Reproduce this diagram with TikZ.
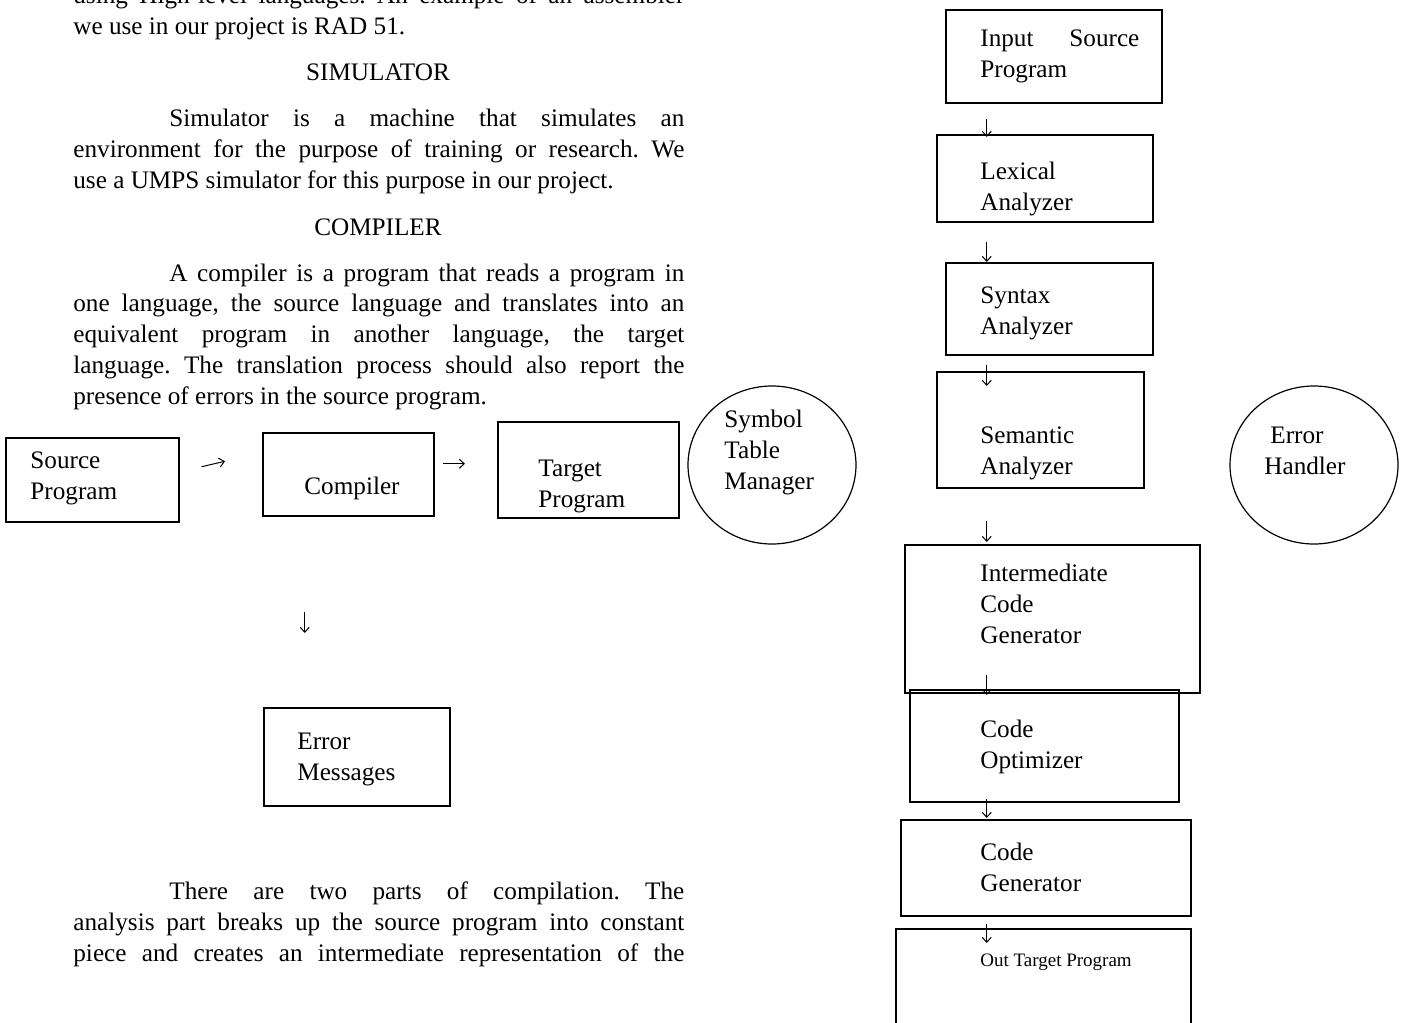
\documentclass[tikz,border=0pt]{standalone}
\usepackage{fontspec}
\setmainfont{Liberation Serif}
\usetikzlibrary{arrows.meta,shapes.geometric}

\newcommand{\bodyfont}{\fontsize{12.6}{15.35}\selectfont\frenchspacing}
\newcommand{\tinyfont}{\fontsize{9.5}{11.5}\selectfont}
\newcommand{\jline}[1]{\makebox[305.5pt][s]{#1}}
\newcommand{\iline}[1]{\hspace*{48pt}\makebox[257.5pt][s]{#1}}

\tikzset{
  blk/.style={draw, line width=0.75pt, inner sep=0, anchor=north west},
  bubble/.style={draw, ellipse, line width=0.6pt, inner sep=0,
    minimum width=84pt, minimum height=79pt},
  % multi-line nodes: base sits on the last line
  lbl/.style={anchor=base west, align=left, inner sep=0, font=\bodyfont},
  para/.style={anchor=base west, align=left, inner sep=0, font=\bodyfont},
  flow/.style={-{Straight Barb[length=2.5pt,width=4.5pt]}, line width=0.5pt}
}

\begin{document}
\begin{tikzpicture}[x=0.5pt, y=-0.5pt]

  \path[use as bounding box, fill=white] (0,0) rectangle (1405,1023);

  % Page text, left column
  \node[para] (p-asm) at (73,34) {\jline{using High-level languages. An example of an assembler}\\
    we use in our project is RAD 51.};
  \node[anchor=base, inner sep=0, font=\bodyfont] (h-sim) at (378,80) {SIMULATOR};
  \node[para] (p-sim) at (73,188) {\iline{Simulator is a machine that simulates an}\\
    \jline{environment for the purpose of training or research. We}\\
    use a UMPS simulator for this purpose in our project.};
  \node[anchor=base, inner sep=0, font=\bodyfont] (h-comp) at (378,235) {COMPILER};
  \node[para] (p-comp) at (73,404) {\iline{A compiler is a program that reads a program in}\\
    \jline{one language, the source language and translates into an}\\
    \jline{equivalent program in another language, the target}\\
    \jline{language. The translation process should also report the}\\
    presence of errors in the source program.};
  \node[para] (p-parts) at (73,961) {\iline{There are two parts of compilation. The}\\
    \jline{analysis part breaks up the source program into constant}\\
    \jline{piece and creates an intermediate representation of the}};

  % Compiler overview
  \node[blk, minimum width=86.5pt, minimum height=42pt] (src) at (5,437) {};
  \node[blk, minimum width=85.5pt, minimum height=41.5pt] (comp) at (262,432) {};
  \node[blk, minimum width=90.5pt, minimum height=48pt] (tgt) at (497,421) {};
  \node[blk, minimum width=93pt, minimum height=49pt] (errm) at (263,707) {};
  \node[bubble] (symtab) at (772,465) {};

  \node[lbl] (src-t) at (30,499) {Source\\Program};
  \node[lbl] (comp-t) at (304,494) {Compiler};
  \node[lbl] (tgt-t) at (538,507) {Target\\Program};
  \node[lbl] (errm-t) at (297,780) {Error\\Messages};
  \node[lbl] (symtab-t) at (724,489) {Symbol\\Table\\Manager};

  \draw[flow] ([shift={(22,-13)}]src.east) -- ([shift={(-37,-13)}]comp.west);
  \draw[flow] ([shift={(8,-10.5)}]comp.east) -- ([shift={(-32,-6)}]tgt.west);
  \draw[flow] ([shift={(-43.5,95)}]comp.south) -- ([shift={(-52,-74)}]errm.north);

  % Phases of a compiler
  \node[blk, minimum width=108pt, minimum height=46.5pt] (inp) at (945,9) {};
  \node[blk, minimum width=108pt, minimum height=43.5pt] (lex) at (936,134) {};
  \node[blk, minimum width=103.5pt, minimum height=46pt] (syn) at (945,262) {};
  \node[blk, minimum width=103.5pt, minimum height=58pt] (sem) at (936,371) {};
  \node[blk, minimum width=147.5pt, minimum height=74pt] (icg) at (904,544) {};
  \node[blk, minimum width=134.5pt, minimum height=56pt] (opt) at (909,689) {};
  \node[blk, minimum width=145pt, minimum height=48pt] (cg) at (900,819) {};
  \node[blk, minimum width=147.5pt, minimum height=66pt] (out) at (895,928) {};
  \node[bubble] (errh) at (1314,465) {};

  \node[lbl] (inp-t) at (980,77) {\makebox[79.5pt][s]{Input Source}\\Program};
  \node[lbl] (lex-t) at (980,210) {Lexical\\Analyzer};
  \node[lbl] (syn-t) at (980,334) {Syntax\\Analyzer};
  \node[lbl] (sem-t) at (980,474) {Semantic\\Analyzer};
  \node[lbl] (icg-t) at (980,643) {Intermediate\\Code\\Generator};
  \node[lbl] (opt-t) at (980,768) {Code\\Optimizer};
  \node[lbl] (cg-t) at (980,891) {Code\\Generator};
  \node[lbl, font=\tinyfont] (out-t) at (980,966) {Out Target Program};
  \node[lbl] (errh-t) at (1264,474) {\hspace*{3pt}Error\\Handler};

  \draw[flow] ([shift={(-67,15)}]inp.south) -- ([shift={(-58,3)}]lex.north);
  \draw[flow] ([shift={(-58,19)}]lex.south) -- ([shift={(-62.5,0)}]syn.north);
  \draw[flow] ([shift={(-62.5,9)}]syn.south) -- ([shift={(-53.5,15)}]sem.north);
  \draw[flow] ([shift={(-53.5,32)}]sem.south) -- ([shift={(-65.5,-2)}]icg.north);
  \draw[flow] ([shift={(-65.5,-19)}]icg.south) -- ([shift={(-57.5,6)}]opt.north);
  \draw[flow] ([shift={(-57.5,-4)}]opt.south) -- ([shift={(-59,-1)}]cg.north);
  \draw[flow] ([shift={(-59,7)}]cg.south) -- ([shift={(-56.5,15)}]out.north);

\end{tikzpicture}
\end{document}
